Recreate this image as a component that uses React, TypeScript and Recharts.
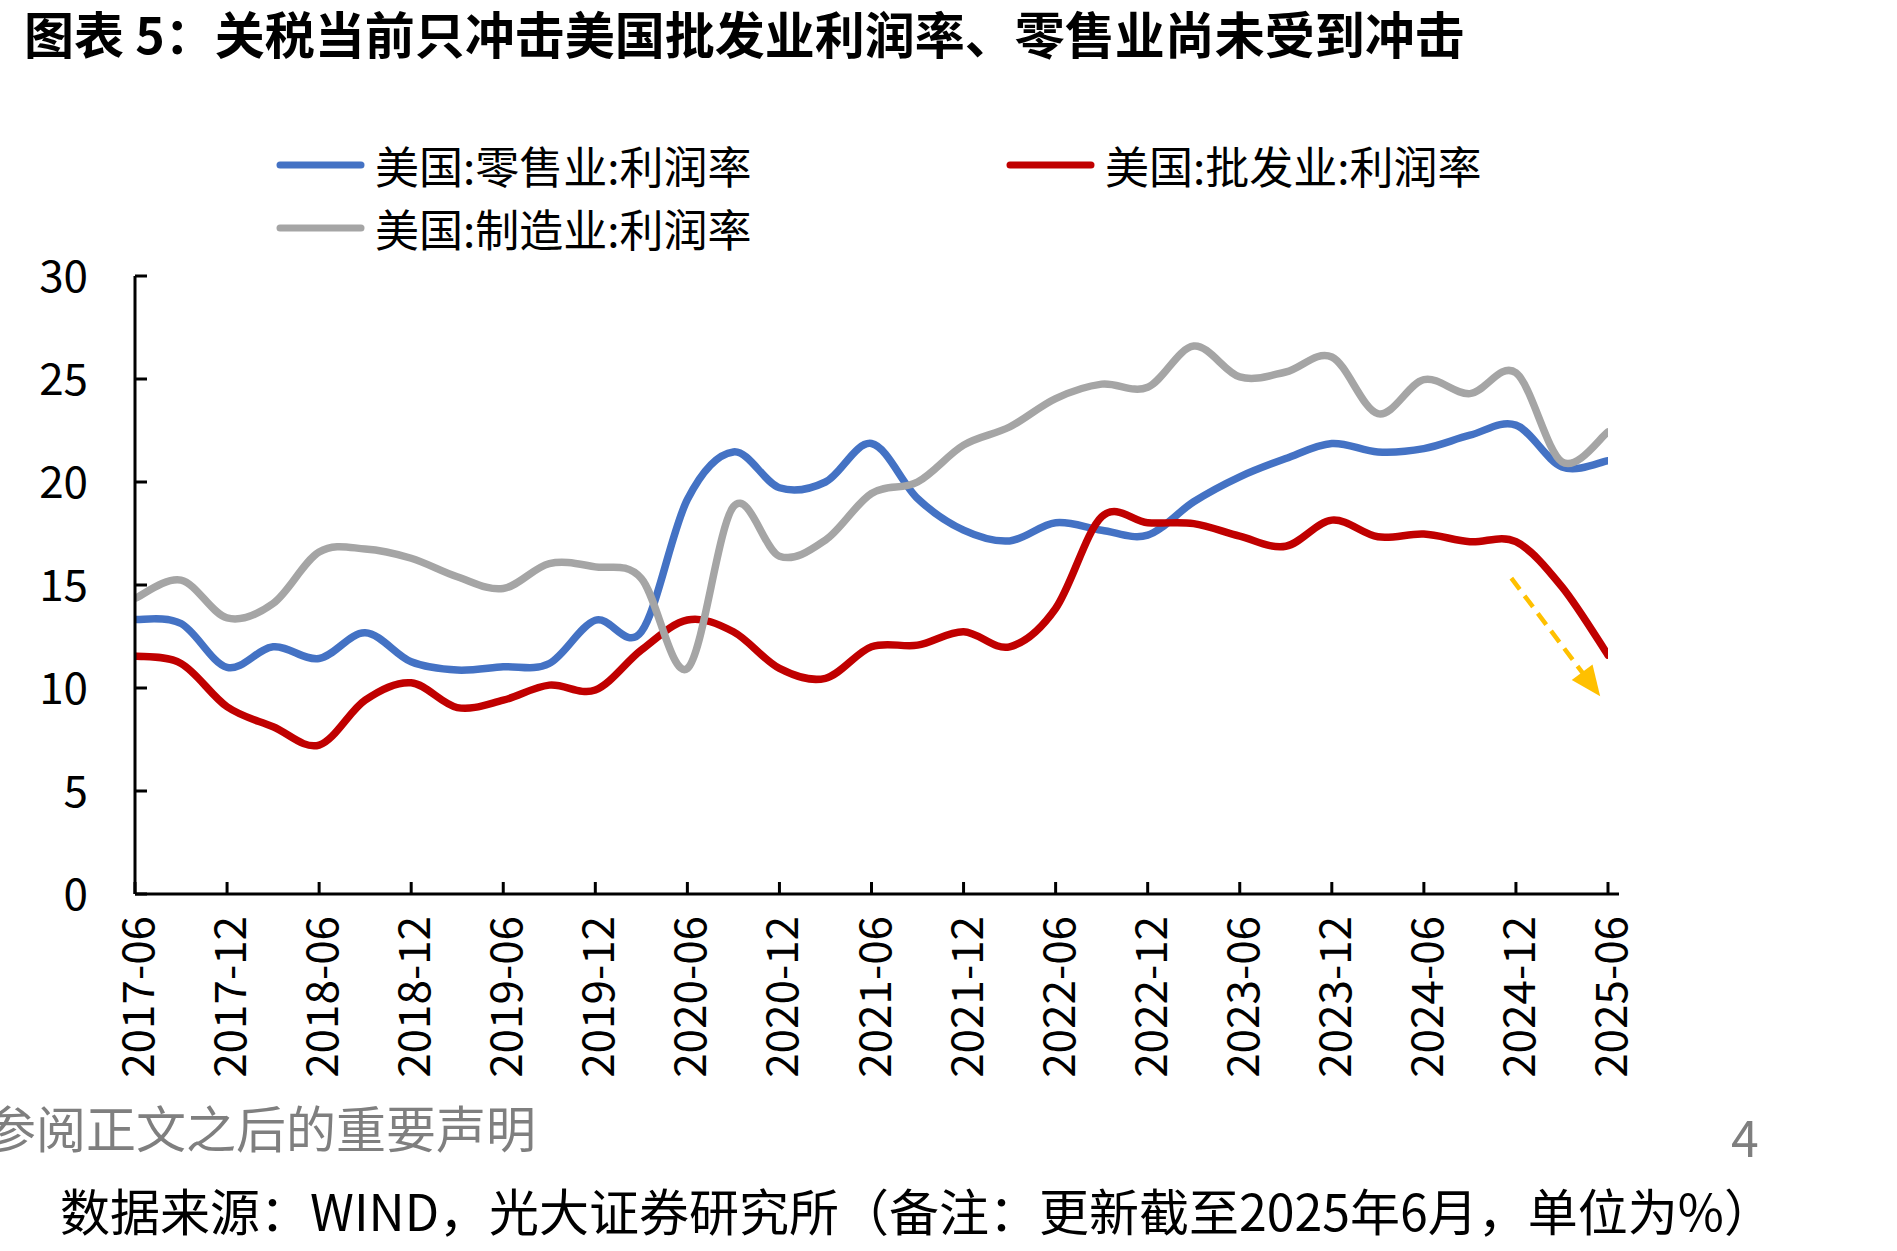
import React from 'react';
import { LineChart, Line, XAxis, YAxis, Legend, ReferenceLine } from 'recharts';

// Quarterly categories
const dates = [
  '2017-06', '2017-09', '2017-12', '2018-03', '2018-06', '2018-09', '2018-12',
  '2019-03', '2019-06', '2019-09', '2019-12', '2020-03', '2020-06', '2020-09',
  '2020-12', '2021-03', '2021-06', '2021-09', '2021-12', '2022-03', '2022-06',
  '2022-09', '2022-12', '2023-03', '2023-06', '2023-09', '2023-12', '2024-03',
  '2024-06', '2024-09', '2024-12', '2025-03', '2025-06',
];

// 美国:零售业:利润率
const retail = [
  13.33, 13.13, 11.0, 12.0, 11.43, 12.68, 11.27, 10.87, 11.03, 11.19, 13.29,
  12.73, 19.15, 21.46, 19.72, 20.0, 21.87, 19.2, 17.66, 17.14, 18.02, 17.66,
  17.42, 19.04, 20.25, 21.14, 21.87, 21.46, 21.62, 22.27, 22.76, 20.73, 21.03,
];

// 美国:批发业:利润率
const wholesale = [
  11.55, 11.19, 9.09, 8.12, 7.23, 9.41, 10.25, 9.05, 9.41, 10.14, 9.9,
  11.84, 13.3, 12.73, 10.95, 10.47, 12.0, 12.08, 12.73, 12.0, 13.86, 18.31,
  18.02, 17.98, 17.37, 16.88, 18.15, 17.34, 17.47, 17.1, 17.1, 14.91, 11.6,
];

// 美国:制造业:利润率
const manufacturing = [
  14.35, 15.24, 13.4, 14.1, 16.6, 16.75, 16.3, 15.4, 14.83, 16.04, 15.88,
  15.32, 10.95, 18.8, 16.4, 17.18, 19.44, 20.0, 21.79, 22.67, 24.05, 24.75,
  24.6, 26.6, 25.1, 25.34, 26.07, 23.32, 24.97, 24.29, 25.3, 20.98, 22.43,
];

const seriesNames = ['美国:零售业:利润率', '美国:批发业:利润率', '美国:制造业:利润率'];
const seriesKeys = ['retail', 'wholesale', 'manufacturing'];
const seriesColors = ['#4472C4', '#C00000', '#A5A5A5'];

const xTickIndices = [0, 2, 4, 6, 8, 10, 12, 14, 16, 18, 20, 22, 24, 26, 28, 30, 32];
const yTicks = [0, 5, 10, 15, 20, 25, 30];

// Trend arrow annotation (data space): start and tip
const arrowStart = { x: 29.9, y: 15.33 };
const arrowEnd = { x: 31.83, y: 9.6 };

const data = dates.map((d, i) => ({
  idx: i,
  date: d,
  retail: retail[i],
  wholesale: wholesale[i],
  manufacturing: manufacturing[i],
}));

// Excel-like smooth curve (Catmull-Rom through the points)
const smoothCurve = (context: any) => {
  let pts: number[][] = [];
  return {
    areaStart() {},
    areaEnd() {},
    lineStart() {
      pts = [];
    },
    point(x: number, y: number) {
      pts.push([+x, +y]);
    },
    lineEnd() {
      if (!pts.length) return;
      context.moveTo(pts[0][0], pts[0][1]);
      if (pts.length === 1) return;
      for (let i = 0; i < pts.length - 1; i++) {
        const p0 = pts[i - 1] || pts[i];
        const p1 = pts[i];
        const p2 = pts[i + 1];
        const p3 = pts[i + 2] || p2;
        const t = 1 / 6;
        context.bezierCurveTo(
          p1[0] + (p2[0] - p0[0]) * t,
          p1[1] + (p2[1] - p0[1]) * t,
          p2[0] - (p3[0] - p1[0]) * t,
          p2[1] - (p3[1] - p1[1]) * t,
          p2[0],
          p2[1]
        );
      }
    },
  };
};

const FONT = '"Noto Sans CJK SC", "Noto Sans", sans-serif';

const XTick = (props: any) => {
  const { x, y, payload } = props;
  return (
    <text
      x={x}
      y={y}
      transform={`rotate(-90 ${x} ${y})`}
      textAnchor="end"
      dominantBaseline="central"
      fontSize={44}
      fill="#000"
      fontFamily={FONT}
    >
      {dates[payload.value]}
    </text>
  );
};

const ArrowShape = (p: any) => {
  const x1 = Number(p.x1), y1 = Number(p.y1), x2 = Number(p.x2), y2 = Number(p.y2);
  if (![x1, y1, x2, y2].every((v) => isFinite(v))) return <g />;
  const dx = x2 - x1;
  const dy = y2 - y1;
  const len = Math.hypot(dx, dy) || 1;
  const ux = dx / len;
  const uy = dy / len;
  const headLen = 30;
  const headW = 13;
  const bx = x2 - ux * headLen;
  const by = y2 - uy * headLen;
  return (
    <g>
      <line
        x1={x1}
        y1={y1}
        x2={bx + ux * 4}
        y2={by + uy * 4}
        stroke="#FFC000"
        strokeWidth={4.5}
        strokeDasharray="14 8"
      />
      <polygon
        points={`${x2},${y2} ${bx - uy * headW},${by + ux * headW} ${bx + uy * headW},${by - ux * headW}`}
        fill="#FFC000"
      />
    </g>
  );
};

const renderLegend = (props: any) => {
  const payload = (props.payload || []).slice();
  payload.sort(
    (a: any, b: any) => seriesKeys.indexOf(a.dataKey) - seriesKeys.indexOf(b.dataKey)
  );
  return (
    <div style={{ position: 'relative', width: 1300, height: 120, fontFamily: FONT }}>
      {payload.map((entry: any, i: number) => {
        const col = i % 2;
        const row = Math.floor(i / 2);
        return (
          <div
            key={entry.dataKey}
            style={{
              position: 'absolute',
              left: col * 730,
              top: row * 63,
              height: 44,
              display: 'flex',
              alignItems: 'center',
              whiteSpace: 'nowrap',
            }}
          >
            <svg width={89} height={12} style={{ display: 'block' }}>
              <line x1={4} y1={6} x2={85} y2={6} stroke={entry.color} strokeWidth={7} strokeLinecap="round" />
            </svg>
            <span style={{ marginLeft: 10, fontSize: 44, lineHeight: '44px', color: '#000' }}>
              {entry.value}
            </span>
          </div>
        );
      })}
    </div>
  );
};

export default function App() {
  return (
    <div
      style={{
        position: 'absolute',
        left: 0,
        top: 0,
        width: 1897,
        height: 1251,
        background: '#fff',
        overflow: 'hidden',
        fontFamily: FONT,
      }}
    >
      <div
        style={{
          position: 'absolute',
          left: 24,
          top: 4,
          fontSize: 50,
          lineHeight: '56px',
          fontWeight: 700,
          color: '#000',
          whiteSpace: 'nowrap',
        }}
      >
        图表 5：关税当前只冲击美国批发业利润率、零售业尚未受到冲击
      </div>

      <div style={{ position: 'absolute', left: 0, top: 0 }}>
        <LineChart
          width={1897}
          height={1251}
          data={data}
          margin={{ top: 276, right: 278, bottom: 157, left: 0 }}
        >
          <XAxis
            dataKey="idx"
            type="number"
            domain={[0, 32]}
            ticks={xTickIndices}
            interval={0}
            padding={{ left: 0, right: 11 }}
            height={200}
            tickSize={-12}
            tickMargin={34}
            axisLine={{ stroke: '#000', strokeWidth: 3 }}
            tickLine={{ stroke: '#000', strokeWidth: 3 }}
            tick={<XTick />}
            allowDataOverflow
          />
          <YAxis
            type="number"
            domain={[0, 30]}
            ticks={yTicks}
            interval={0}
            width={135}
            tickSize={-12}
            tickMargin={59}
            axisLine={{ stroke: '#000', strokeWidth: 3 }}
            tickLine={{ stroke: '#000', strokeWidth: 3 }}
            tick={{ fontSize: 44, fill: '#000', fontFamily: FONT }}
          />
          <Legend
            layout="vertical"
            align="center"
            verticalAlign="middle"
            wrapperStyle={{ left: 276, top: 143, width: 1300, height: 120 }}
            content={renderLegend}
          />
          {seriesKeys.map((k, i) => (
            <Line
              key={k}
              dataKey={k}
              name={seriesNames[i]}
              stroke={seriesColors[i]}
              strokeWidth={7.5}
              strokeLinecap="round"
              strokeLinejoin="round"
              type={smoothCurve as any}
              dot={false}
              activeDot={false}
              isAnimationActive={false}
            />
          ))}
          <ReferenceLine
            segment={[arrowStart, arrowEnd]}
            stroke="#FFC000"
            shape={ArrowShape}
            ifOverflow="visible"
          />
        </LineChart>
      </div>

      <div
        style={{
          position: 'absolute',
          right: 1897 - 536,
          top: 1096,
          fontSize: 50,
          lineHeight: '60px',
          color: '#7f7f7f',
          whiteSpace: 'nowrap',
        }}
      >
        请务必参阅正文之后的重要声明
      </div>
      <div
        style={{
          position: 'absolute',
          left: 1731,
          top: 1105,
          fontSize: 50,
          lineHeight: '60px',
          color: '#7f7f7f',
        }}
      >
        4
      </div>
      <div
        style={{
          position: 'absolute',
          left: 60,
          top: 1179,
          fontSize: 50,
          lineHeight: '60px',
          color: '#000',
          whiteSpace: 'nowrap',
        }}
      >
        数据来源：WIND，光大证券研究所（备注：更新截至2025年6月，单位为%）
      </div>
    </div>
  );
}
